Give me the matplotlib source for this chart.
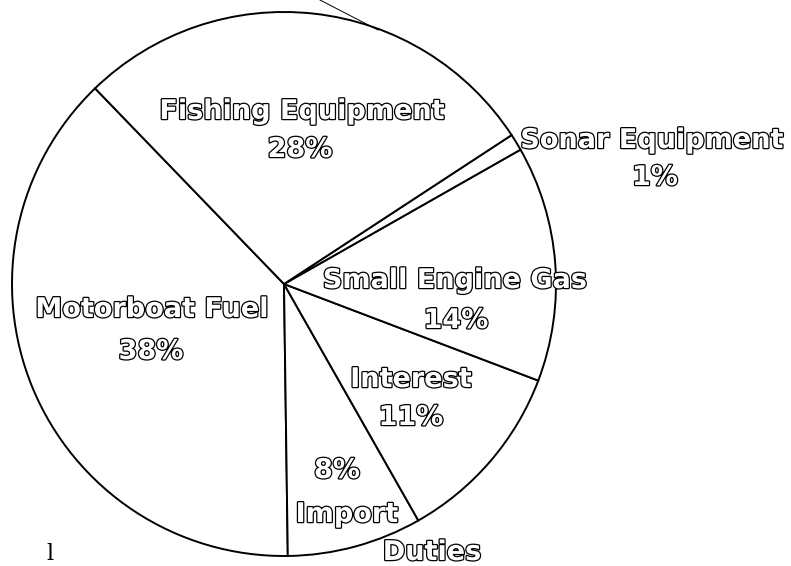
import numpy as np
import matplotlib.pyplot as plt
import matplotlib.patheffects as pe

# pie shares, counter-clockwise from the Motorboat/Fishing border
categories = ['Motorboat Fuel', 'Import Duties', 'Interest', 'Small Engine Gas',
              'Sonar Equipment', 'Fishing Equipment']
shares = [38, 8, 11, 14, 1, 28]

# label text as written on the chart (name lines and percent)
label_names = ['Motorboat Fuel', 'Import', 'Interest', 'Small Engine Gas',
               'Sonar Equipment', 'Fishing Equipment']
label_pcts = ['38%', '8%', '11%', '14%', '1%', '28%']

W, H = 791, 566
fig = plt.figure(figsize=(W / 100, H / 100), dpi=100)
ax = fig.add_axes([0, 0, 1, 1])

cx, cy, r = 284, H - 284, 272
ax.pie(shares, startangle=134, center=(cx, cy), radius=r, frame=True,
       colors=['white'] * len(shares),
       wedgeprops=dict(edgecolor='black', linewidth=1.4))
ax.set_xlim(0, W)
ax.set_ylim(0, H)
ax.set_aspect('equal')
ax.axis('off')

# thin leader line running off the top
ax.plot([320, 378], [H - 0, H - 30], color='black', linewidth=0.7)

outline = [pe.Stroke(linewidth=1.8, foreground='black'), pe.Normal()]
font = dict(family='DejaVu Sans', weight='bold', color='white',
            ha='center', va='center', path_effects=outline)


def put(x, y, s, size=19.5):
    ax.text(x, H - y, s, fontsize=size, **font)


# names and percents, positions read in pixel coords of the picture
put(152, 310, label_names[0])
put(151, 352, label_pcts[0])
put(337, 471, label_pcts[1])
put(347, 515, label_names[1])
put(432, 553, 'Duties')
put(411, 380, label_names[2])
put(411, 418, label_pcts[2])
put(455, 281, label_names[3])
put(456, 321, label_pcts[3])
put(652, 141, label_names[4])
put(655, 178, label_pcts[4])
put(302, 112, label_names[5])
put(300, 150, label_pcts[5])

# stray letter from the scan at the bottom left
ax.text(50, H - 565, 'l', fontsize=16, family='DejaVu Serif',
        ha='center', va='bottom', color='black')

fig.savefig('out.png', dpi=100)
